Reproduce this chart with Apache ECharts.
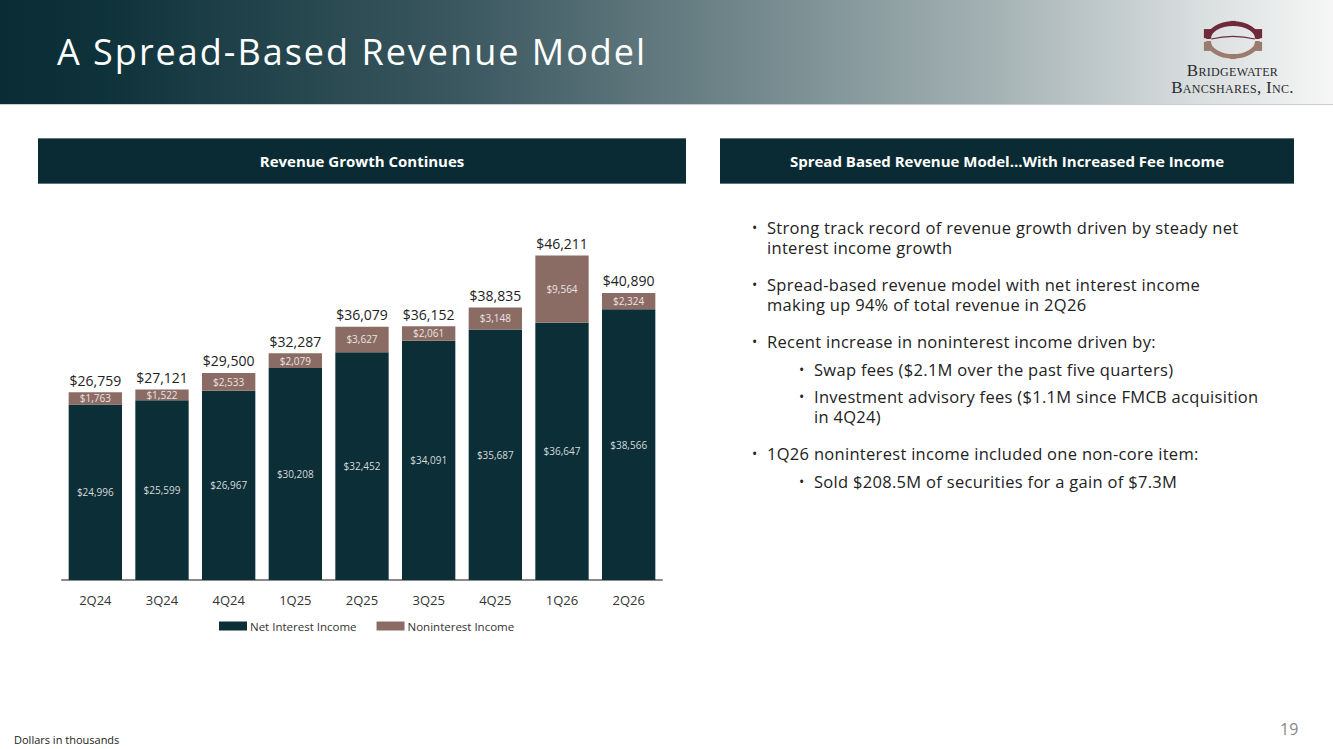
<!DOCTYPE html>
<html>
<head>
<meta charset="utf-8">
<script src="https://cdn.jsdelivr.net/npm/echarts@6/dist/echarts.min.js"></script>
<style>
  html, body { margin: 0; padding: 0; background: #fff; }
  body { width: 1333px; height: 749px; position: relative; overflow: hidden; font-family: 'Open Sans', 'Lato', sans-serif; color: #222; }
  .band {
    position: absolute; left: 0; top: 0; width: 1333px; height: 104px;
    background: linear-gradient(90deg, #0a2c34 0%, #0f333b 8%, #3c5860 35%, #6f858a 55%, #a6b3b5 75%, #d9dedf 90%, #f6f6f6 100%);
    border-bottom: 1px solid #c9cfd0;
  }
  .title { position: absolute; left: 57px; top: 27px; color: #fff; font-size: 36px; letter-spacing: 2px; font-family: 'Open Sans', sans-serif; }
  .logo { position: absolute; left: 1165px; top: 20px; width: 135px; text-align: center; font-family: 'Liberation Serif', 'DejaVu Serif', serif; color: #2a2a2a; }
  .logo svg { display: block; margin: 0 auto 2px auto; }
  .logo .l1, .logo .l2 { font-variant: small-caps; font-size: 17px; line-height: 17px; letter-spacing: 0.3px; }
  .hdr { position: absolute; top: 138px; height: 46px; background: #0a2b33; border-top: 1px solid #5f757a; border-bottom: 1px solid #5f757a; box-sizing: border-box;
         color: #fff; font-weight: bold; font-size: 15px; line-height: 44px; text-align: center; }
  #chart { position: absolute; left: 0; top: 200px; width: 700px; height: 450px; }
  ul { position: absolute; margin: 0; padding: 0; list-style: none; font-size: 16.5px; line-height: 20px; letter-spacing: 0.3px; color: #222; }
  li { position: relative; }
  li::before { content: '\2022'; position: absolute; left: -15px; font-size: 14px; }
  .foot { position: absolute; left: 14px; top: 732px; font-size: 11px; color: #222; }
  .page { position: absolute; left: 1280px; top: 718px; font-size: 16px; color: #888; }
</style>
</head>
<body>
<div class="band"></div>
<div class="title">A Spread-Based Revenue Model</div>
<div class="logo">
  <svg width="62" height="40" viewBox="0 0 66 44">
    <path d="M6 21 A27 17 0 0 1 60 21" fill="none" stroke="#6e2a3a" stroke-width="5"/>
    <path d="M6 23 A27 17 0 0 0 60 23" fill="none" stroke="#9b7b6e" stroke-width="5"/>
    <path d="M9 21 Q33 15 57 21" fill="none" stroke="#6e2a3a" stroke-width="1.2"/>
    <rect x="1" y="10" width="8" height="10" fill="#6e2a3a"/>
    <rect x="57" y="10" width="8" height="10" fill="#6e2a3a"/>
    <rect x="1" y="24" width="8" height="10" fill="#9b7b6e"/>
    <rect x="57" y="24" width="8" height="10" fill="#9b7b6e"/>
    <rect x="30" y="1" width="6" height="5" fill="#6e2a3a"/>
    <rect x="30" y="38" width="6" height="5" fill="#9b7b6e"/>
  </svg>
  <div class="l1">Bridgewater</div>
  <div class="l2">Bancshares, Inc.</div>
</div>

<div class="hdr" style="left:38px;width:648px;">Revenue Growth Continues</div>
<div class="hdr" style="left:720px;width:574px;">Spread Based Revenue Model…With Increased Fee Income</div>

<div id="chart"></div>

<ul style="left:767px;top:218px;width:492px;">
  <li>Strong track record of revenue growth driven by steady net interest income growth</li>
</ul>
<ul style="left:767px;top:275px;width:492px;">
  <li>Spread-based revenue model with net interest income making up 94% of total revenue in 2Q26</li>
</ul>
<ul style="left:767px;top:332px;width:520px;">
  <li>Recent increase in noninterest income driven by:</li>
</ul>
<ul style="left:814px;top:360px;width:470px;">
  <li>Swap fees ($2.1M over the past five quarters)</li>
</ul>
<ul style="left:814px;top:387px;width:462px;">
  <li>Investment advisory fees ($1.1M since FMCB acquisition in 4Q24)</li>
</ul>
<ul style="left:767px;top:444px;width:520px;">
  <li>1Q26 noninterest income included one non-core item:</li>
</ul>
<ul style="left:814px;top:472px;width:470px;">
  <li>Sold $208.5M of securities for a gain of $7.3M</li>
</ul>

<div class="foot">Dollars in thousands</div>
<div class="page">19</div>

<script>
var quarters = ['2Q24', '3Q24', '4Q24', '1Q25', '2Q25', '3Q25', '4Q25', '1Q26', '2Q26'];
var netInterest = [24996, 25599, 26967, 30208, 32452, 34091, 35687, 36647, 38566];
var nonInterest = [1763, 1522, 2533, 2079, 3627, 2061, 3148, 9564, 2324];
var totals = [26759, 27121, 29500, 32287, 36079, 36152, 38835, 46211, 40890];

var dark = '#0b2e37';
var brown = '#8b6c65';
var font = 'Open Sans';

function money(v) {
  return '$' + v.toLocaleString('en-US');
}

var chart = echarts.init(document.getElementById('chart'), null, { renderer: 'svg' });
chart.setOption({
  animation: false,
  grid: { left: 62, right: 38, top: 29, bottom: 70 },
  legend: {
    data: ['Net Interest Income', 'Noninterest Income'],
    top: 415,
    left: 214,
    itemWidth: 28,
    itemHeight: 9,
    itemGap: 20,
    icon: 'rect',
    textStyle: { fontFamily: font, fontSize: 11.5, color: '#333', padding: [0, 0, 0, -2] }
  },
  xAxis: {
    type: 'category',
    data: quarters,
    axisLine: { lineStyle: { color: '#8a8a8a', width: 2 } },
    axisTick: { show: false },
    axisLabel: { fontFamily: font, fontSize: 13, color: '#333', margin: 13 }
  },
  yAxis: {
    type: 'value',
    min: 0,
    max: 50000,
    show: false
  },
  series: [
    {
      name: 'Net Interest Income',
      type: 'bar',
      stack: 'rev',
      data: netInterest,
      barWidth: '80%',
      itemStyle: { color: dark },
      label: {
        show: true,
        position: 'inside',
        fontFamily: font,
        fontSize: 10,
        color: '#d6dadb',
        formatter: function(p) { return money(p.value); }
      }
    },
    {
      name: 'Noninterest Income',
      type: 'bar',
      stack: 'rev',
      data: nonInterest,
      barWidth: '80%',
      itemStyle: { color: brown },
      label: {
        show: true,
        position: 'inside',
        fontFamily: font,
        fontSize: 10,
        color: '#ece4e2',
        formatter: function(p) { return money(p.value); }
      }
    },
    {
      name: 'Total',
      type: 'bar',
      data: totals,
      barWidth: '80%',
      barGap: '-100%',
      silent: true,
      z: 1,
      itemStyle: { color: 'rgba(0,0,0,0)' },
      label: {
        show: true,
        position: 'top',
        distance: 5,
        fontFamily: font,
        fontSize: 14,
        color: '#222',
        formatter: function(p) { return money(p.value); }
      }
    }
  ]
});
</script>
</body>
</html>
